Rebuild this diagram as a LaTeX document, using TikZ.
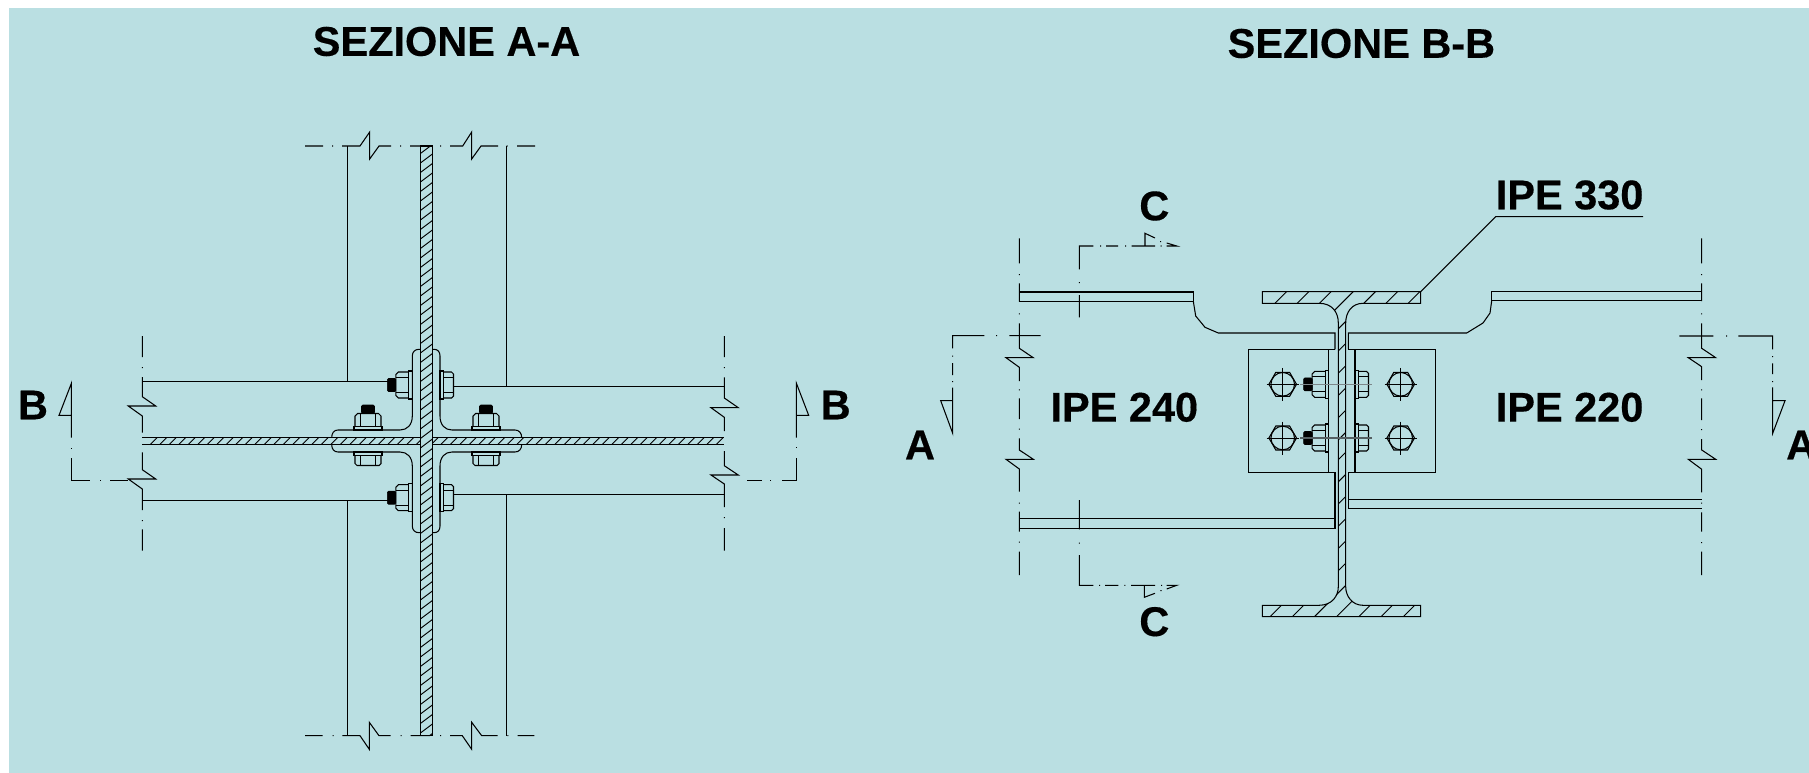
\documentclass[tikz,border=0pt]{standalone}
\usepackage{fontspec}
\setmainfont{Liberation Sans}[BoldFeatures={FakeBold=0.35}]
\definecolor{bgblue}{RGB}{186,223,226}
\definecolor{rodgray}{RGB}{125,135,138}
\definecolor{roddark}{RGB}{85,95,98}
\tikzset{
  ln/.style={line width=1.05pt,black,line join=miter},
  hl/.style={line width=0.95pt,black},
  lbl/.style={font=\bfseries\fontsize{41.5}{42}\selectfont,inner sep=0pt,text=black},
  blk/.style={fill=black,draw=black,line width=0.6pt,rounded corners=1.2pt},
}
% nut + washer + bolt tip, seat at origin, pointing to -x
\newcommand{\nutpart}{%
  \draw[ln] (-3.5,-14) rectangle (0,14);
  \draw[ln] (-3.5,-13) -- (-14,-13) -- (-16.5,-10.5) -- (-16.5,10.5) -- (-14,13) -- (-3.5,13);
  \draw[ln] (-16.5,-7.5) -- (-3.5,-7.5) (-16.5,7.5) -- (-3.5,7.5);
  \filldraw[blk] (-25,-6.5) rectangle (-16.5,6.5);
}
% washer + head, seat at origin, pointing to +x
\newcommand{\headpart}{%
  \draw[ln] (0,-14) rectangle (3.8,14);
  \draw[ln] (3.8,-13) -- (11.5,-13) -- (13.5,-11) -- (13.5,11) -- (11.5,13) -- (3.8,13);
  \draw[ln] (3.8,-7.5) -- (13.5,-7.5) (3.8,7.5) -- (13.5,7.5);
}
\newcommand{\hexhole}[2]{%
  \begin{scope}[shift={(#1,#2)}]
    \draw[ln] (13.8,0) -- (6.9,12) -- (-6.9,12) -- (-13.8,0) -- (-6.9,-12) -- (6.9,-12) -- cycle;
    \draw[ln] (0,0) circle[radius=11.8];
    \draw[hl] (-16,0) -- (16,0) (0,-16.5) -- (0,16.5);
  \end{scope}}
\newcommand{\colBB}{(1262.3,291.7) -- (1420.7,291.7) -- (1420.7,303.3) -- (1363,303.3)
  .. controls (1352,303.3) and (1345.7,312) .. (1345.7,323) -- (1345.7,586.7)
  .. controls (1345.7,596) and (1352,605.3) .. (1363,605.3)
  -- (1420.7,605.3) -- (1420.7,616.7) -- (1262.3,616.7) -- (1262.3,605.3) -- (1319,605.3)
  .. controls (1332,605.3) and (1338.3,596) .. (1338.3,586.7) -- (1338.3,323)
  .. controls (1338.3,312) and (1332,303.3) .. (1319,303.3) -- (1262.3,303.3) -- cycle}
\begin{document}
\begin{tikzpicture}[x=1pt,y=-1pt]
\useasboundingbox (0,0) rectangle (1809,773);
\clip (0,0) rectangle (1809,773);
\fill[white] (0,0) rectangle (1809,773);
\fill[bgblue] (9,8) rectangle (1809,773);

% ---------- titles and labels
\node[lbl] (titA) at (446.5,41.5) {SEZIONE A-A};
\node[lbl] (titB) at (1361.4,43.5) {SEZIONE B-B};
\node[lbl] (bL) at (33,405) {B};
\node[lbl] (bR) at (835.7,405) {B};
\node[lbl] (aL) at (920,445) {A};
\node[lbl,anchor=west] (aR) at (1786,445) {A};
\node[lbl] (cT) at (1154.3,206) {C};
\node[lbl] (cB) at (1154.3,621.7) {C};
\node[lbl] (ipe240) at (1124.3,407.3) {IPE 240};
\node[lbl] (ipe220) at (1569.6,407.3) {IPE 220};
\node[lbl] (ipe330) at (1569.6,195) {IPE 330};

% ========== SEZIONE A-A
% column flanges
\draw[ln] (347.7,146) -- (347.7,381.7) (347.7,500.4) -- (347.7,735.7);
\draw[ln] (506.7,146) -- (506.7,386.7) (506.7,494.7) -- (506.7,735.7);
% beam flanges
\draw[ln] (142.3,381.7) -- (388,381.7) (142.3,500.4) -- (388,500.4);
\draw[ln] (454,386.7) -- (724.3,386.7) (454,494.7) -- (724.3,494.7);
% column web
\draw[ln] (420.7,146) -- (432.7,146) -- (432.7,735.7) -- (420.7,735.7) -- cycle;
\begin{scope}
  \clip (420.7,146) rectangle (432.7,735.7);
  \foreach \yy in {153.3,162.8,...,745} \draw[hl] (420.7,\yy) -- (432.7,\yy-9);
\end{scope}
% beam web
\draw[ln] (142.3,437.7) -- (420.7,437.7) (142.3,444.7) -- (420.7,444.7);
\draw[ln] (432.7,437.7) -- (724.3,437.7) (432.7,444.7) -- (724.3,444.7);
\begin{scope}
  \clip (142.3,437.7) rectangle (420.7,444.7);
  \foreach \xx in {150,159.5,...,425} \draw[hl] (\xx,444.7) -- (\xx+7,437.7);
\end{scope}
\begin{scope}
  \clip (432.7,437.7) rectangle (724.3,444.7);
  \foreach \xx in {431,440.5,...,725} \draw[hl] (\xx,444.7) -- (\xx+7,437.7);
\end{scope}
% cruciform plate
\draw[ln] (420.7,349.3) -- (419,349.3) .. controls (415,349.3) and (412.3,352) .. (412.3,356) -- (412.3,416)
  .. controls (412.3,425) and (407,430) .. (400,430) -- (338,430)
  .. controls (334,430) and (331.7,433) .. (331.7,437.7);
\draw[ln] (331.7,444.7) .. controls (331.7,449) and (334,452) .. (338,452) -- (400,452)
  .. controls (407,452) and (412.3,457) .. (412.3,466) -- (412.3,526)
  .. controls (412.3,530) and (415,532.7) .. (419,532.7) -- (420.7,532.7);
\draw[ln] (432.7,349.3) -- (434,349.3) .. controls (438,349.3) and (440,352) .. (440,356) -- (440,416)
  .. controls (440,425) and (445,430) .. (452,430) -- (515,430)
  .. controls (519,430) and (521.7,433) .. (521.7,437.7);
\draw[ln] (521.7,444.7) .. controls (521.7,449) and (519,452) .. (515,452) -- (452,452)
  .. controls (445,452) and (440,457) .. (440,466) -- (440,526)
  .. controls (440,530) and (438,532.7) .. (434,532.7) -- (432.7,532.7);
% bolts
\begin{scope}[shift={(412.3,385)}]\nutpart\end{scope}
\begin{scope}[shift={(412.3,497.7)}]\nutpart\end{scope}
\begin{scope}[shift={(440,385)}]\headpart\end{scope}
\begin{scope}[shift={(440,497.7)}]\headpart\end{scope}
\begin{scope}[shift={(368,430)},rotate=-90]\nutpart\end{scope}
\begin{scope}[shift={(486,430)},rotate=-90]\nutpart\end{scope}
\begin{scope}[shift={(368,452)},rotate=-90]\headpart\end{scope}
\begin{scope}[shift={(486,452)},rotate=-90]\headpart\end{scope}
% top break line
\draw[ln] (305,146) -- (323,146) (332,146) -- (333,146)
  (342,146) -- (360,146) -- (369.7,132) -- (369.7,159) -- (379,146) -- (391,146)
  (400,146) -- (401,146) (410,146) -- (422,146) (440,146) -- (441,146)
  (450,146) -- (462.7,146) -- (471.7,132) -- (471.7,159) -- (481,146) -- (498,146)
  (506.7,146) -- (507.7,146) (517,146) -- (535,146);
% bottom break line
\draw[ln] (305,735.7) -- (322.7,735.7) (332.7,735.7) -- (333.7,735.7)
  (342.3,735.7) -- (360,735.7) -- (369.3,749.3) -- (369.3,722.3) -- (379,735.7) -- (390.7,735.7)
  (400.7,735.7) -- (401.7,735.7) (410.7,735.7) -- (430,735.7) (440,735.7) -- (441,735.7)
  (450,735.7) -- (462.3,735.7) -- (471.7,749.3) -- (471.7,722.3) -- (481.7,735.7) -- (497.7,735.7)
  (507.3,735.7) -- (508.3,735.7) (517.7,735.7) -- (534.3,735.7);
% left break line
\draw[ln] (142.3,336) -- (142.3,357) (142.3,367) -- (142.3,368)
  (142.3,377) -- (142.3,396.7) -- (155.7,406) -- (128.3,406) -- (142.3,416) -- (142.3,432.7)
  (142.3,452.3) -- (142.3,469.7) -- (155.7,479) -- (128.3,479) -- (142.3,489) -- (142.3,510)
  (142.3,520) -- (142.3,521) (142.3,529.3) -- (142.3,550.7);
% right break line
\draw[ln] (724.3,336) -- (724.3,357) (724.3,367) -- (724.3,368)
  (724.3,377.3) -- (724.3,398) -- (738.3,407.7) -- (711,407.7) -- (724.3,417.3) -- (724.3,431)
  (724.3,451) -- (724.3,465.7) -- (738.3,475) -- (711,475) -- (724.3,484) -- (724.3,507)
  (724.3,517) -- (724.3,518) (724.3,528) -- (724.3,550.7);
% section B marks
\draw[ln] (71.4,437.7) -- (71.4,383.3) -- (59,415.4) -- (71.4,415.4);
\draw[ln] (71.4,448) -- (71.4,449) (71.4,458) -- (71.4,480.4) -- (90,480.4) (100,480.4) -- (101,480.4) (110,480.4) -- (128,480.4);
\draw[ln] (796.4,437.7) -- (796.4,383.3) -- (808.7,415.4) -- (796.4,415.4);
\draw[ln] (796.4,447) -- (796.4,448) (796.4,458) -- (796.4,480.4) -- (781.7,480.4) (771,480.4) -- (770,480.4) (761.7,480.4) -- (747.3,480.4);

% ========== SEZIONE B-B
% column
\begin{scope}
  \clip \colBB;
  \foreach \cc in {1578.3,1600.5,...,1790} \draw[hl] (\cc-240,240) -- (\cc-640,640);
  \foreach \cc in {1797.9,1820.1,...,2060} \draw[hl] (\cc-240,240) -- (\cc-640,640);
\end{scope}
\draw[ln] \colBB;
\coordinate (leadK) at (1495.7,216.7);
\coordinate (leadE) at (1643,216.7);
\coordinate (leadS) at (1420.7,291.7);
\draw[ln] (leadS) -- (leadK) -- (leadE);
% left beam
\draw[ln] (1019.3,292) -- (1193.3,292) -- (1193.3,301.3) -- (1019.3,301.3);
\draw[ln] (1193.3,301.3) -- (1195.7,316) -- (1205,327.3) -- (1218.3,333) -- (1335,333) -- (1335,349.3);
\draw[ln] (1335,472.3) -- (1335,528.3) -- (1019.3,528.3) (1019.3,518.5) -- (1335,518.5);
% right beam
\draw[ln] (1701.7,291.7) -- (1491.7,291.7) -- (1491.7,300.7) -- (1701.7,300.7);
\draw[ln] (1491.7,300.7) -- (1490,313) -- (1483,323) -- (1466.7,333) -- (1348.3,333) -- (1348.3,349.3);
\draw[ln] (1348.3,472.3) -- (1348.3,508.3) -- (1701.7,508.3) (1348.3,499.3) -- (1701.7,499.3);
% plates
\draw[ln] (1335,349.3) -- (1248.3,349.3) -- (1248.3,472.3) -- (1335,472.3);
\draw[ln] (1348.3,349.3) -- (1435.7,349.3) -- (1435.7,472.3) -- (1348.3,472.3);
\draw[ln] (1328.7,349.3) -- (1328.7,472.3) (1355,349.3) -- (1355,472.3);
% holes
\hexhole{1282.7}{384.3}\hexhole{1282.7}{438}\hexhole{1400.7}{384.3}\hexhole{1400.7}{438}
% bolts
\begin{scope}[shift={(1328.7,384.3)}]\nutpart\end{scope}
\begin{scope}[shift={(1328.7,438)}]\nutpart\end{scope}
\begin{scope}[shift={(1355,384.3)}]\headpart\end{scope}
\begin{scope}[shift={(1355,438)}]\headpart\end{scope}
\draw[line width=1.1pt,rodgray] (1300,384.3) -- (1371.7,384.3);
\draw[line width=1.1pt,roddark] (1300,438) -- (1371.7,438);
% left break line
\draw[ln] (1019.3,238.3) -- (1019.3,263.3) (1019.3,274) -- (1019.3,275)
  (1019.3,283.3) -- (1019.3,301.7) (1019.3,313.3) -- (1019.3,314.3)
  (1019.3,323.3) -- (1019.3,348.3) -- (1033.3,357.7) -- (1006,357.7) -- (1019.3,367.3) -- (1019.3,381)
  (1019.3,389.3) -- (1019.3,390.3) (1019.3,398.3) -- (1019.3,419) (1019.3,428.7) -- (1019.3,429.7)
  (1019.3,438.3) -- (1019.3,450) -- (1033.3,459.3) -- (1006,459.3) -- (1019.3,469) -- (1019.3,491.7)
  (1019.3,502.7) -- (1019.3,503.7) (1019.3,511.7) -- (1019.3,531.7) (1019.3,541.7) -- (1019.3,542.7)
  (1019.3,551.7) -- (1019.3,575);
% right break line
\draw[ln] (1701.7,238.3) -- (1701.7,263.3) (1701.7,274) -- (1701.7,275)
  (1701.7,283.3) -- (1701.7,301) (1701.7,313.3) -- (1701.7,314.3)
  (1701.7,323.3) -- (1701.7,348.3) -- (1715.7,357.7) -- (1688.3,357.7) -- (1701.7,366.7) -- (1701.7,380)
  (1701.7,389.3) -- (1701.7,390.3) (1701.7,398.3) -- (1701.7,420) (1701.7,429) -- (1701.7,430)
  (1701.7,439) -- (1701.7,450) -- (1715.7,459.3) -- (1688.3,459.3) -- (1701.7,469.3) -- (1701.7,492.3)
  (1701.7,502.7) -- (1701.7,503.7) (1701.7,512.3) -- (1701.7,531.7) (1701.7,542) -- (1701.7,543)
  (1701.7,551.7) -- (1701.7,575);
% section A marks
\draw[ln] (1040.7,335.7) -- (1009.3,335.7) (997,335.7) -- (996,335.7) (984.3,335.7) -- (952.7,335.7) -- (952.7,348.3)
  (952.7,355.7) -- (952.7,356.7) (952.7,363) -- (952.7,375) (952.7,381) -- (952.7,382)
  (952.7,387.7) -- (952.7,433.3) -- (940.7,400.7) -- (952.7,400.7);
\draw[ln] (1679.3,336) -- (1713.3,336) (1726,336) -- (1727,336) (1738.3,336) -- (1772.7,336) -- (1772.7,349.3)
  (1772.7,356) -- (1772.7,357) (1772.7,363.3) -- (1772.7,374) (1772.7,381) -- (1772.7,382)
  (1772.7,387.3) -- (1772.7,433.3) -- (1785,400.7) -- (1772.7,400.7);
% section C marks
\draw[ln] (1079.3,317.3) -- (1079.3,295) (1079.3,282) -- (1079.3,283) (1079.3,269.3) -- (1079.3,246) -- (1093.3,246)
  (1100,246) -- (1101,246) (1106,246) -- (1118,246) (1125,246) -- (1126,246) (1131.7,246) -- (1155,246)
  (1145,246) -- (1145,233.3) -- (1155,238) (1160.7,246) -- (1161.7,246) (1160.7,241) -- (1160.7,242)
  (1166.7,243) -- (1176.7,246) -- (1166.7,246);
\draw[ln] (1079.3,500) -- (1079.3,529.3) (1079.3,542.7) -- (1079.3,543.7) (1079.3,555) -- (1079.3,585.3) -- (1093.3,585.3)
  (1099,585.3) -- (1100,585.3) (1105,585.3) -- (1118.3,585.3) (1124.3,585.3) -- (1125.3,585.3) (1131,585.3) -- (1155,585.3)
  (1144.3,585.3) -- (1144.3,597.3) -- (1155,593.3) (1161,585.3) -- (1162,585.3) (1161,590) -- (1161,591)
  (1166.7,589) -- (1176.7,585.3) -- (1166.7,585.3);
\end{tikzpicture}
\end{document}
